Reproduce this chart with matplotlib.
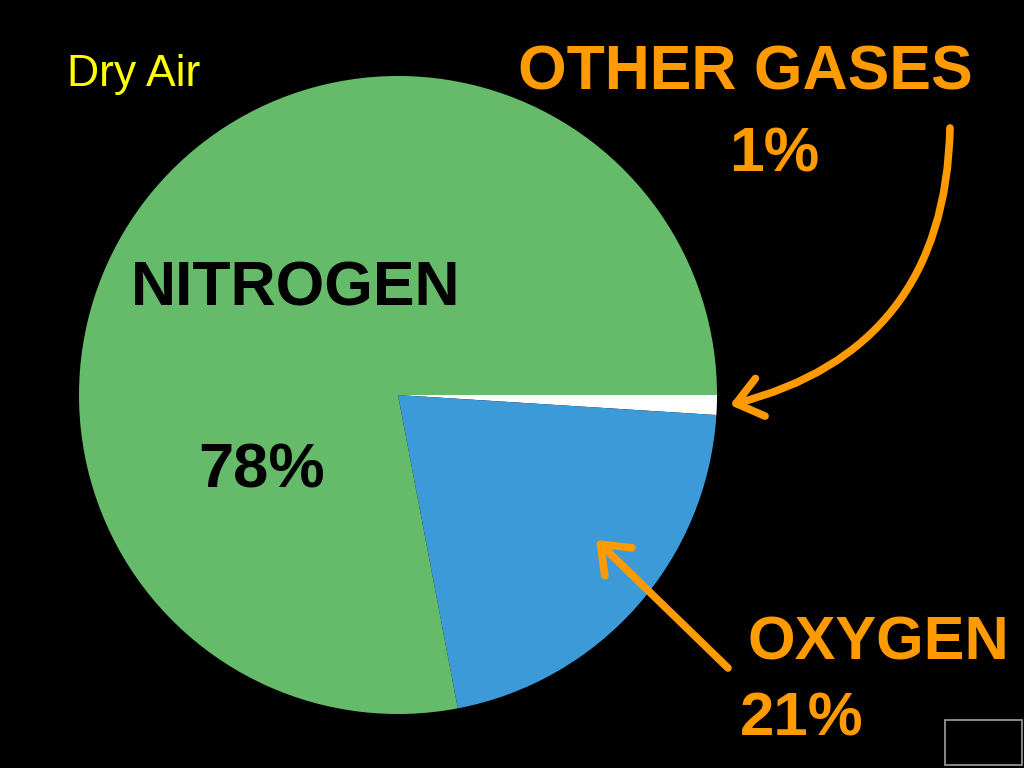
import matplotlib.pyplot as plt
from matplotlib.patches import FancyArrowPatch, Rectangle

# composition of dry air (percent), drawn clockwise from 3 o'clock
gases = ["OTHER GASES", "OXYGEN", "NITROGEN"]
shares = [1, 21, 78]
slice_colors = ["#ffffff", "#3b9ad7", "#66bb6a"]

orange = "#ff9a00"

fig = plt.figure(figsize=(10.24, 7.68), dpi=100, facecolor="black")
ax = fig.add_axes([0, 0, 1, 1])
ax.set_facecolor("black")

# pixel-like coordinates, y going down like the slide
ax.pie(shares, colors=slice_colors, startangle=0, counterclock=True,
       center=(398, 395), radius=319,
       wedgeprops=dict(linewidth=0.8, edgecolor="none"))
ax.set_xlim(0, 1024)
ax.set_ylim(768, 0)
ax.set_aspect("equal")
ax.axis("off")

bold = dict(family="Liberation Sans", fontweight="bold", va="baseline")
ax.text(67, 86, "Dry Air", color="#ffff00", fontsize=32,
        family="Liberation Sans", va="baseline")
ax.text(518, 90, gases[0], color=orange, fontsize=45, **bold)
ax.text(729, 172, f"{shares[0]}%", color=orange, fontsize=45, **bold)
ax.text(131, 305, gases[2], color="black", fontsize=45, **bold)
ax.text(198, 488, f"{shares[2]}%", color="black", fontsize=45.5, **bold)
ax.text(748, 660, gases[1], color=orange, fontsize=44, **bold)
ax.text(740, 735, f"{shares[1]}%", color=orange, fontsize=44.5, **bold)

# curved arrow to the thin white slice
ax.add_patch(FancyArrowPatch((950, 128), (730, 405),
                             connectionstyle="arc3,rad=-0.38",
                             arrowstyle="->,head_length=0.9,head_width=0.7",
                             mutation_scale=20, color=orange, lw=5.5,
                             capstyle="round", joinstyle="round",
                             shrinkA=0, shrinkB=0))
# straight arrow into the oxygen slice
ax.add_patch(FancyArrowPatch((728, 668), (596, 540),
                             arrowstyle="->,head_length=0.9,head_width=0.7",
                             mutation_scale=20, color=orange, lw=5.5,
                             capstyle="round", joinstyle="round",
                             shrinkA=0, shrinkB=0))

# small empty box in the corner
ax.add_patch(Rectangle((945, 720), 77, 45, fill=False,
                       edgecolor="#a0a0a0", lw=1.2))

fig.savefig("out.png", dpi=100, facecolor="black")
